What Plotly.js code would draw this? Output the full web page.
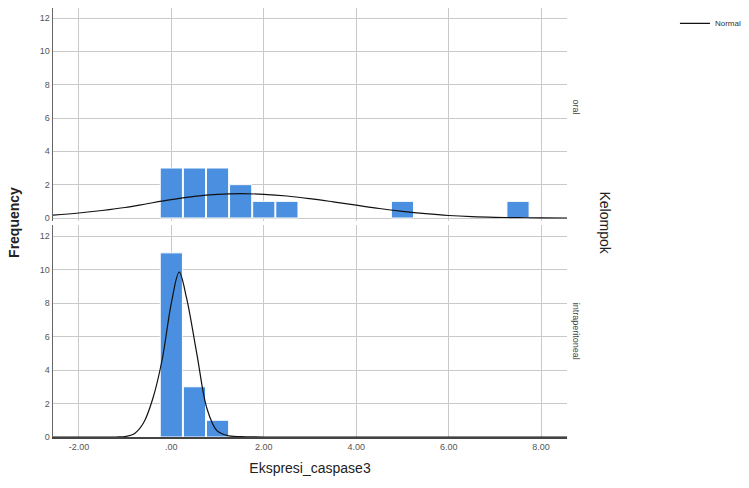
<!DOCTYPE html>
<html>
<head>
<meta charset="utf-8">
<script src="https://cdn.plot.ly/plotly-3.0.1.min.js"></script>
<style>html,body{margin:0;padding:0;background:#fff;}#chart{width:749px;height:488px;}</style>
</head>
<body>
<div id="chart"></div>
<script>
// Histogram bins (bin centers) and counts
const oralBins = [0, 0.5, 1.0, 1.5, 2.0, 2.5, 5.0, 7.5];
const oralCounts = [3, 3, 3, 2, 1, 1, 1, 1];
const ipBins = [0, 0.5, 1.0];
const ipCounts = [11, 3, 1];
const binWidth = 0.48;

// Normal curves, points
const oralCurveX = [-2.56, -2.0, -1.5, -1.0, -0.5, 0.0, 0.5, 1.0, 1.5, 2.0, 2.5, 3.0, 3.5, 4.0, 4.5, 5.0, 5.5, 6.0, 6.5, 7.0, 7.5, 8.0, 8.56];
const oralCurveY = [0.17, 0.3, 0.45, 0.63, 0.87, 1.1, 1.3, 1.42, 1.46, 1.42, 1.32, 1.16, 0.97, 0.77, 0.57, 0.4, 0.26, 0.15, 0.08, 0.04, 0.02, 0.01, 0.0];
const ipCurveX = [-2.56, -1.2, -1.0, -0.8, -0.6, -0.4, -0.2, 0.0, 0.17, 0.33, 0.55, 0.77, 0.98, 1.2, 1.5, 2.0, 8.56];
const ipCurveY = [0.0, 0.0, 0.03, 0.2, 0.85, 2.3, 4.6, 8.0, 9.85, 8.3, 5.0, 1.7, 0.4, 0.1, 0.02, 0.0, 0.0];

const xTickVals = [-2, 0, 2, 4, 6, 8];
const xTickText = ['-2.00', '.00', '2.00', '4.00', '6.00', '8.00'];
const yTickVals = [0, 2, 4, 6, 8, 10, 12];
const yTickText = ['0', '2', '4', '6', '8', '10', '12'];
const panelLabels = ['oral', 'intraperitoneal'];

const barColor = '#4a8fe0';
const font = 'Liberation Sans, Arial, sans-serif';

const traces = [
  {type: 'bar', x: oralBins, y: oralCounts, width: binWidth, xaxis: 'x2', yaxis: 'y2',
   marker: {color: barColor, line: {color: '#ffffff', width: 1}}, showlegend: false, hoverinfo: 'skip'},
  {type: 'scatter', mode: 'lines', x: oralCurveX, y: oralCurveY, xaxis: 'x2', yaxis: 'y2',
   line: {color: '#111', width: 1.2, shape: 'spline'}, name: 'Normal', showlegend: true},
  {type: 'bar', x: ipBins, y: ipCounts, width: binWidth, xaxis: 'x', yaxis: 'y',
   marker: {color: barColor, line: {color: '#ffffff', width: 1}}, showlegend: false, hoverinfo: 'skip'},
  {type: 'scatter', mode: 'lines', x: ipCurveX, y: ipCurveY, xaxis: 'x', yaxis: 'y',
   line: {color: '#111', width: 1.2, shape: 'spline'}, name: 'Normal', showlegend: false}
];

const xBase = {
  range: [-2.56, 8.56], tickvals: xTickVals, ticktext: xTickText,
  showgrid: true, gridcolor: '#c9c9c9', gridwidth: 1, zeroline: false,
  tickfont: {family: font, size: 9, color: '#555'}, ticks: ''
};
const yBase = {
  tickvals: yTickVals, ticktext: yTickText, showgrid: true, gridcolor: '#c9c9c9',
  zeroline: false, showline: true, linecolor: '#666', linewidth: 1.5,
  tickfont: {family: font, size: 9, color: '#555'}, ticks: ''
};

const layout = {
  width: 749, height: 488,
  margin: {l: 53, r: 182, t: 8, b: 51, autoexpand: false},
  paper_bgcolor: '#fff', plot_bgcolor: '#fff',
  bargap: 0,
  font: {family: font},
  xaxis: Object.assign({}, xBase, {anchor: 'y', showline: true, linecolor: '#444', linewidth: 2,
    title: {text: 'Ekspresi_caspase3', font: {family: font, size: 14, color: '#222'}, standoff: 12}}),
  xaxis2: Object.assign({}, xBase, {anchor: 'y2', matches: 'x', showticklabels: false, showline: false}),
  yaxis: Object.assign({}, yBase, {domain: [0, 0.494], range: [0, 12.66], anchor: 'x'}),
  yaxis2: Object.assign({}, yBase, {domain: [0.5035, 1], range: [-0.18, 12.6], anchor: 'x2'}),
  showlegend: true,
  legend: {x: 1.21, y: 0.998, xanchor: 'left', yanchor: 'top', bgcolor: 'rgba(0,0,0,0)',
    font: {family: font, size: 8, color: '#333'}, itemwidth: 30, tracegroupgap: 0},
  annotations: [
    {text: '<b>Frequency</b>', xref: 'paper', yref: 'paper', x: -0.077, y: 0.5, xanchor: 'center', yanchor: 'middle',
     textangle: -90, showarrow: false, font: {family: font, size: 14, color: '#222'}},
    {text: 'Kelompok', xref: 'paper', yref: 'paper', x: 1.074, y: 0.5, xanchor: 'center', yanchor: 'middle',
     textangle: 90, showarrow: false, font: {family: font, size: 14, color: '#222'}},
    {text: panelLabels[0], xref: 'paper', yref: 'paper', x: 1.018, y: 0.77, xanchor: 'center', yanchor: 'middle',
     textangle: 90, showarrow: false, font: {family: font, size: 9, color: '#444'}},
    {text: panelLabels[1], xref: 'paper', yref: 'paper', x: 1.018, y: 0.247, xanchor: 'center', yanchor: 'middle',
     textangle: 90, showarrow: false, font: {family: font, size: 9, color: '#444'}}
  ]
};

Plotly.newPlot('chart', traces, layout, {staticPlot: true, displayModeBar: false});
</script>
</body>
</html>
